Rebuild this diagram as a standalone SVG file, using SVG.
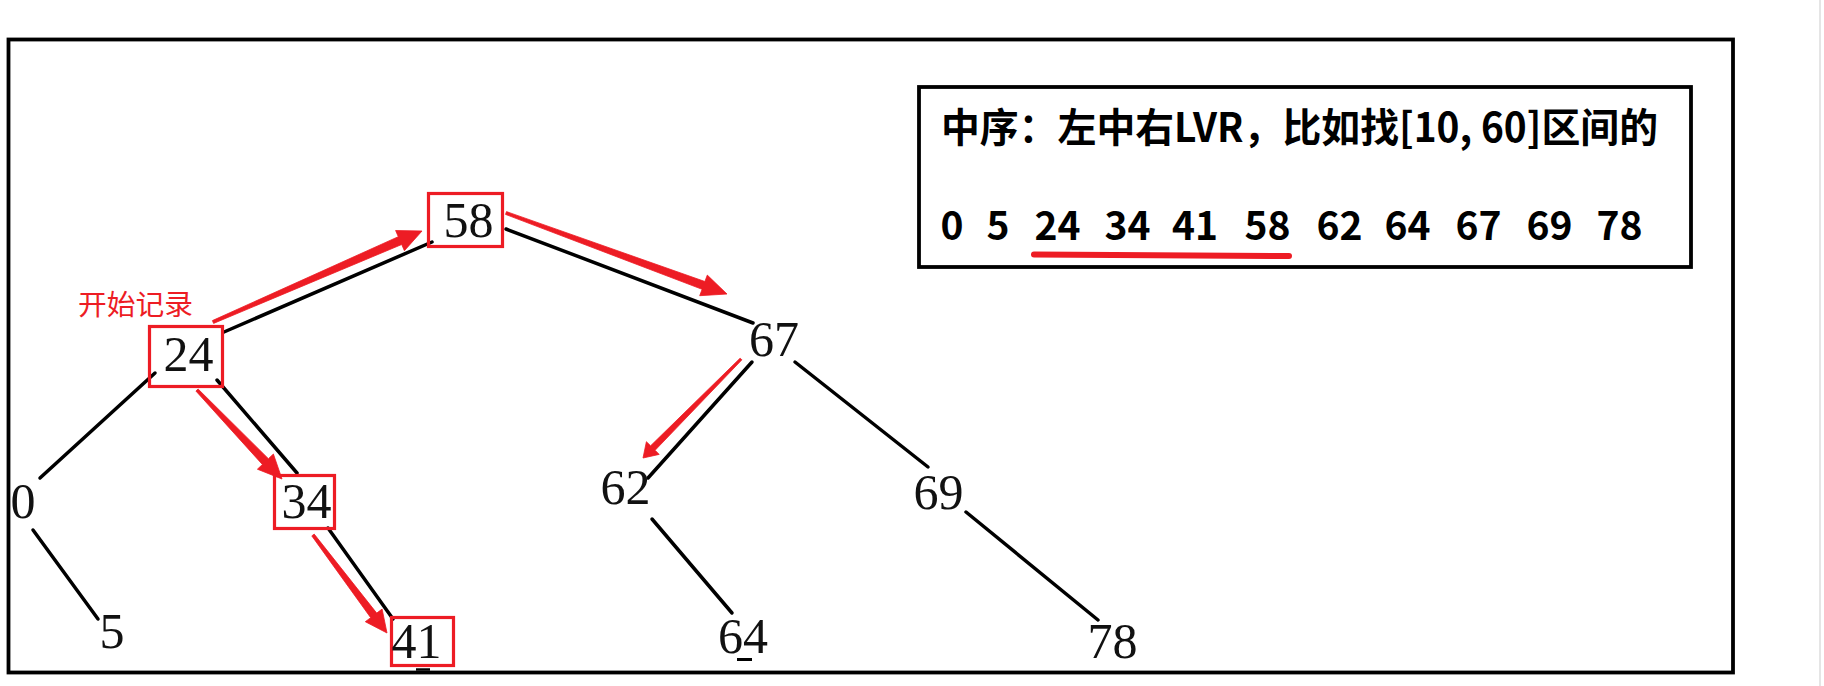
<svg xmlns="http://www.w3.org/2000/svg" width="1824" height="686" viewBox="0 0 1824 686">
<style>
.frame{fill:none;stroke:#000;stroke-width:3.8}
.edge{stroke:#000;stroke-width:3.5;stroke-linecap:round;fill:none}
.box{fill:none;stroke:#ED1C24;stroke-width:3.2}
.arrow{fill:#ED1C24;stroke:#ED1C24;stroke-width:0.8;stroke-linejoin:round}
.num{font-family:"Liberation Serif","Times New Roman",serif;font-size:50px;text-anchor:middle;fill:#111}
.cjk{font-family:"Noto Sans CJK SC","Microsoft YaHei",sans-serif}
.title{font-size:40px;font-weight:bold;fill:#000}
.seq{font-size:39px;font-weight:bold;fill:#000;text-anchor:middle}
.note{font-size:28px;fill:#ED1C24}
</style>
<rect width="1824" height="686" fill="#fff"/>
<line x1="1820" y1="0" x2="1820" y2="686" stroke="#dcdcdc" stroke-width="1.5"/>
<rect id="frame" class="frame" x="8.5" y="39.5" width="1724.5" height="633"/>

<g id="legend">
  <rect class="frame" x="919" y="87" width="772" height="180"/>
  <text class="cjk title" x="941" y="142" textLength="717" lengthAdjust="spacingAndGlyphs">中序：左中右LVR，比如找[10, 60]区间的</text>
  <text class="cjk seq" y="240"><tspan x="952">0</tspan><tspan x="998">5</tspan><tspan x="1057.5">24</tspan><tspan x="1127.5">34</tspan><tspan x="1195">41</tspan><tspan x="1267.5">58</tspan><tspan x="1339.5">62</tspan><tspan x="1407.5">64</tspan><tspan x="1478.5">67</tspan><tspan x="1549.5">69</tspan><tspan x="1619.5">78</tspan></text>
  <path d="M1034,254.5 L1289,256" stroke="#ED1C24" stroke-width="6" stroke-linecap="round" fill="none"/>
</g>

<g id="connectors">
  <g id="edges">
    <line class="edge" x1="224" y1="332" x2="432" y2="242"/>
    <line class="edge" x1="506" y1="229" x2="753" y2="323"/>
    <line class="edge" x1="155" y1="373" x2="40" y2="478"/>
    <line class="edge" x1="217" y1="380" x2="297" y2="473"/>
    <line class="edge" x1="33" y1="530" x2="98" y2="619"/>
    <line class="edge" x1="328" y1="528" x2="393" y2="619"/>
    <line class="edge" x1="752" y1="362" x2="648" y2="478"/>
    <line class="edge" x1="795" y1="362" x2="928" y2="467"/>
    <line class="edge" x1="652" y1="519" x2="732" y2="613"/>
    <line class="edge" x1="966" y1="512" x2="1098" y2="620"/>
  </g>
  <g id="traversal">
    <polygon class="arrow" points="213.6,323.4 401.7,244.5 404.4,250.7 422,231 395.6,230.5 398.3,236.7 212.4,320.6"/>
    <polygon class="arrow" points="505.5,214.4 702.1,289.3 699.7,295.7 727,294 707.3,275.1 704.9,281.5 506.5,211.6"/>
    <polygon class="arrow" points="195.9,391.0 262.4,464.5 257.4,469.2 282,479 273.4,454.0 268.4,458.7 198.1,389.0"/>
    <polygon class="arrow" points="311.8,535.9 370.7,617.7 365.3,621.7 387,633 382.1,609.1 376.7,613.1 314.2,534.1"/>
    <polygon class="arrow" points="740.1,358.2 650.6,445.8 646.4,441.7 643,458 659.2,454.4 655.1,450.3 741.9,359.8"/>
  </g>
</g>

<g id="node-58"><rect class="box" x="428.5" y="193.5" width="74" height="53"/><text class="num" x="468.5" y="237">58</text></g>
<g id="node-24"><rect class="box" x="149.5" y="326.5" width="73" height="60"/><text class="num" x="188.5" y="371">24</text></g>
<g id="node-67"><text class="num" x="774" y="356">67</text></g>
<g id="node-0"><text class="num" x="23" y="518">0</text></g>
<g id="node-34"><rect class="box" x="274.5" y="475.5" width="60" height="53"/><text class="num" x="306.5" y="518">34</text></g>
<g id="node-62"><text class="num" x="625.5" y="504">62</text></g>
<g id="node-69"><text class="num" x="938.5" y="509">69</text></g>
<g id="node-5"><text class="num" x="112" y="648">5</text></g>
<g id="node-41"><rect class="box" x="391.5" y="617.5" width="62" height="48"/><text class="num" x="416.5" y="658">41</text><line x1="416" y1="669.5" x2="430" y2="669.5" stroke="#000" stroke-width="2.5"/></g>
<g id="node-64"><text class="num" x="743" y="653">64</text><line x1="737" y1="659.5" x2="752" y2="659.5" stroke="#000" stroke-width="3"/></g>
<g id="node-78"><text class="num" x="1112.5" y="658">78</text></g>

<g id="label-start"><text class="cjk note" x="78" y="315" textLength="115" lengthAdjust="spacingAndGlyphs">开始记录</text></g>
</svg>
